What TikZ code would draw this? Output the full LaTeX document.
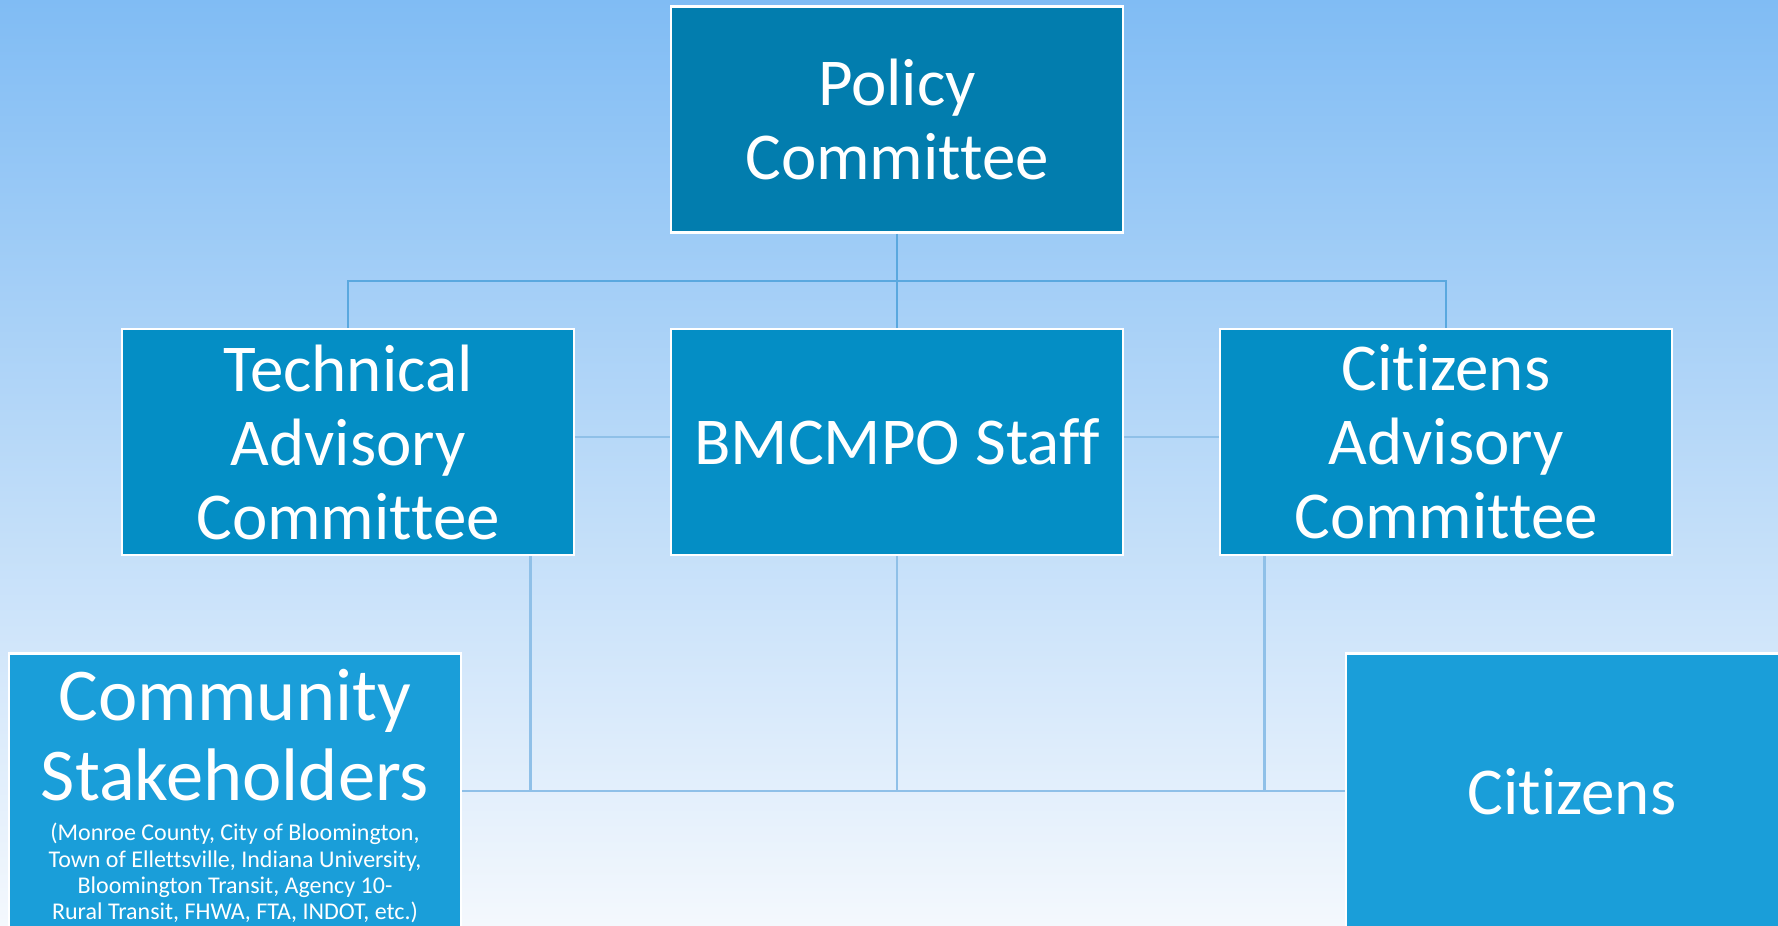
\documentclass[tikz,border=0pt]{standalone}
\usepackage{fontspec}
\setmainfont[Ligatures=NoCommon]{Carlito}
\definecolor{cpol}{HTML}{027DAE}
\definecolor{cmid}{HTML}{048EC5}
\definecolor{cbot}{HTML}{1A9ED9}
\definecolor{bgtop}{HTML}{80BCF4}
\definecolor{bgmid}{HTML}{B8D8F6}
\definecolor{bgbot}{HTML}{F4F8FD}
\definecolor{linetop}{HTML}{5AA8DF}
\definecolor{linebot}{HTML}{8FC0E8}
\begin{document}
\begin{tikzpicture}[x=1pt,y=-1pt,
  box/.style={draw=white,line width=2.5pt,minimum width=452pt,minimum height=226pt,inner sep=0pt,text=white,align=center,font=\fontsize{67}{74}\selectfont},
  topline/.style={draw=linetop,line width=2.6pt},
  botline/.style={draw=linebot,line width=2.6pt}]
\useasboundingbox (0,0) rectangle (1778,926);
\clip (0,0) rectangle (1778,926);
\shade[top color=bgtop, middle color=bgmid, bottom color=bgbot] (0,0) rectangle (1778,926);
% boxes
\node[box,fill=cpol] (pol) at (897,119.5) {Policy\\Committee};
\node[box,fill=cmid] (tech) at (348,442) {Technical\\Advisory\\Committee};
\node[box,fill=cmid] (bmc) at (897,442) {BMCMPO Staff};
\node[box,fill=cmid] (cit) at (1446,442) {Citizens\\Advisory\\Committee};
\node[box,fill=cbot,minimum height=300pt,anchor=north] (comm) at (235,652) {};
\node[box,fill=cbot,minimum height=276pt,anchor=north] (citz) at (1572,652) {Citizens};
\node[text=white,align=center,inner sep=0pt,anchor=north,font=\fontsize{74.5}{80}\selectfont] (ctitle) at (235,669) {Community\\Stakeholders};
\node[text=white,align=center,inner sep=0pt,anchor=north,font=\fontsize{24}{26.3}\selectfont] (csub) at (235,823) {(Monroe County, City of Bloomington,\\Town of Ellettsville, Indiana University,\\Bloomington Transit, Agency 10-\\Rural Transit, FHWA, FTA, INDOT, etc.)};
% connectors
\coordinate (j0) at (897,281);
\coordinate (j1) at (897,791);
\draw[topline] (pol.south) -- (j0);
\draw[topline] (tech.north) -- (tech.north |- j0) -- (cit.north |- j0) -- (cit.north);
\draw[topline] (j0) -- (bmc.north);
\draw[botline] ([yshift=5pt]tech.east) -- ([yshift=5pt]bmc.west);
\draw[botline] ([yshift=5pt]bmc.east) -- ([yshift=5pt]cit.west);
\draw[botline] ([xshift=-45pt]tech.south east) coordinate (ta) -- (ta |- j1);
\draw[botline] ([xshift=46pt]cit.south west) coordinate (ca) -- (ca |- j1);
\draw[botline] (bmc.south) -- (j1);
\draw[botline] (comm.east |- j1) -- (citz.west |- j1);
\end{tikzpicture}
\end{document}
